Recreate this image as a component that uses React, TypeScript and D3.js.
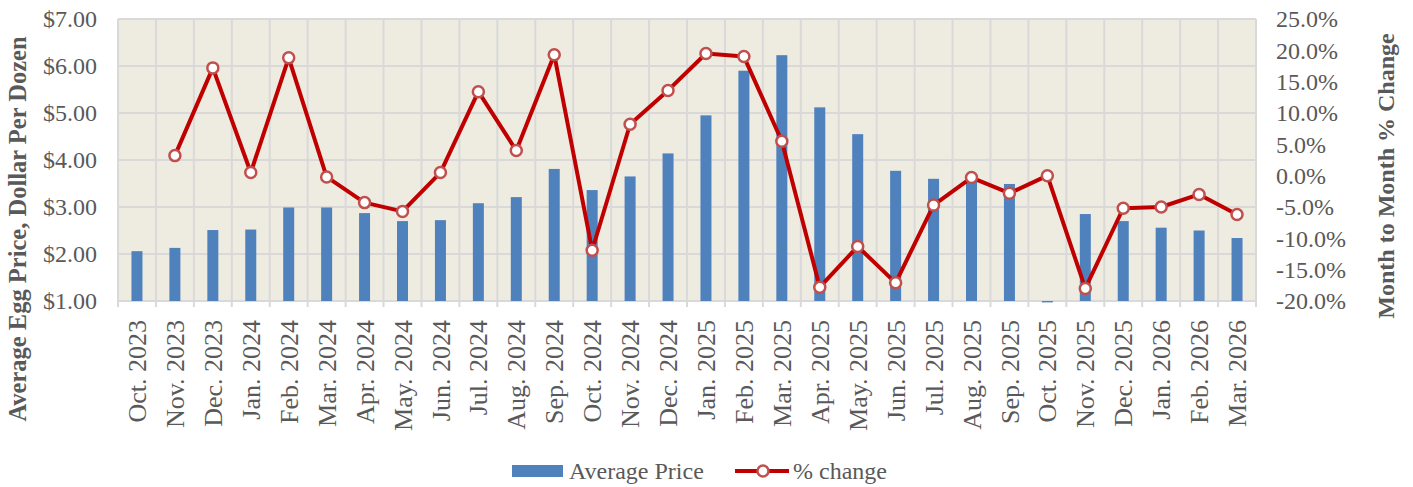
import React, { useEffect, useRef } from 'react';
import * as d3 from 'd3';

const months = [
  'Oct. 2023', 'Nov. 2023', 'Dec. 2023', 'Jan. 2024', 'Feb. 2024', 'Mar. 2024',
  'Apr. 2024', 'May. 2024', 'Jun. 2024', 'Jul. 2024', 'Aug. 2024', 'Sep. 2024',
  'Oct. 2024', 'Nov. 2024', 'Dec. 2024', 'Jan. 2025', 'Feb. 2025', 'Mar. 2025',
  'Apr. 2025', 'May. 2025', 'Jun. 2025', 'Jul. 2025', 'Aug. 2025', 'Sep. 2025',
  'Oct. 2025', 'Nov. 2025', 'Dec. 2025', 'Jan. 2026', 'Feb. 2026', 'Mar. 2026',
];

const avgPrice = [
  2.06, 2.13, 2.51, 2.52, 2.99, 2.99, 2.87, 2.70, 2.72, 3.08, 3.21, 3.81,
  3.36, 3.65, 4.14, 4.95, 5.90, 6.23, 5.12, 4.55, 3.77, 3.60, 3.57, 3.49,
  0.97, 2.85, 2.70, 2.56, 2.50, 2.34,
];

const pctChange: (number | null)[] = [
  null, 3.2, 17.2, 0.5, 18.8, -0.2, -4.3, -5.7, 0.5, 13.4, 4.0, 19.3,
  -11.9, 8.2, 13.6, 19.5, 19.0, 5.5, -17.8, -11.3, -17.1, -4.7, -0.3, -2.8,
  0.0, -18.0, -5.2, -5.0, -3.0, -6.2,
];

const priceTicks = [1, 2, 3, 4, 5, 6, 7];
const pctTicks = [-20, -15, -10, -5, 0, 5, 10, 15, 20, 25];

const App: React.FC = () => {
  const chartRef = useRef<SVGSVGElement>(null);

  useEffect(() => {
    document.body.style.margin = '0';
    const svg = d3.select(chartRef.current!);
    drawChart();
    return () => {
      svg.selectAll('*').remove();
    };
  }, []);

  const drawChart = () => {
    const svg = d3.select(chartRef.current!);
    const font = "'Liberation Serif', 'Times New Roman', serif";
    const textColor = '#595959';
    const grid = '#d9d9d9';

    const plot = { left: 118, right: 1256, top: 19, bottom: 301 };

    const x = d3.scaleBand().domain(months).range([plot.left, plot.right]).padding(0);
    const yL = d3.scaleLinear().domain([1, 7]).range([plot.bottom, plot.top]);
    const yR = d3.scaleLinear().domain([-20, 25]).range([plot.bottom, plot.top]);

    // plot background
    svg
      .append('rect')
      .attr('x', plot.left)
      .attr('y', plot.top)
      .attr('width', plot.right - plot.left)
      .attr('height', plot.bottom - plot.top)
      .attr('fill', '#eeece1');

    // horizontal grid
    svg
      .append('g')
      .selectAll('line')
      .data(priceTicks)
      .enter()
      .append('line')
      .attr('x1', plot.left)
      .attr('x2', plot.right)
      .attr('y1', (d) => yL(d))
      .attr('y2', (d) => yL(d))
      .attr('stroke', grid)
      .attr('stroke-width', 2);

    // vertical grid + ticks below axis
    const bounds = months.map((m) => x(m)!).concat([plot.right]);
    svg
      .append('g')
      .selectAll('line')
      .data(bounds)
      .enter()
      .append('line')
      .attr('x1', (d) => d)
      .attr('x2', (d) => d)
      .attr('y1', plot.top)
      .attr('y2', plot.bottom + 6)
      .attr('stroke', grid)
      .attr('stroke-width', 2);

    // bars
    const bw = 11;
    svg
      .append('g')
      .selectAll('rect')
      .data(avgPrice)
      .enter()
      .append('rect')
      .attr('x', (d, i) => x(months[i])! + x.bandwidth() / 2 - bw / 2)
      .attr('y', (d) => (d >= 1 ? yL(d) : yL(1)))
      .attr('width', bw)
      .attr('height', (d) => Math.max(1, Math.abs(yL(1) - yL(d))))
      .attr('fill', '#4f81bd');

    // line
    const pts = pctChange
      .map((v, i) => ({ m: months[i], v }))
      .filter((d) => d.v !== null) as { m: string; v: number }[];
    const line = d3
      .line<{ m: string; v: number }>()
      .x((d) => x(d.m)! + x.bandwidth() / 2)
      .y((d) => yR(d.v));
    svg
      .append('path')
      .datum(pts)
      .attr('d', line)
      .attr('fill', 'none')
      .attr('stroke', '#c00000')
      .attr('stroke-width', 4)
      .attr('stroke-linejoin', 'round');
    svg
      .append('g')
      .selectAll('circle')
      .data(pts)
      .enter()
      .append('circle')
      .attr('cx', (d) => x(d.m)! + x.bandwidth() / 2)
      .attr('cy', (d) => yR(d.v))
      .attr('r', 5.5)
      .attr('fill', '#ffffff')
      .attr('stroke', '#c0504d')
      .attr('stroke-width', 2.5);

    // left axis labels
    svg
      .append('g')
      .selectAll('text')
      .data(priceTicks)
      .enter()
      .append('text')
      .attr('x', 97)
      .attr('y', (d) => yL(d))
      .attr('dy', '0.35em')
      .attr('text-anchor', 'end')
      .attr('font-family', font)
      .attr('font-size', 24)
      .attr('fill', textColor)
      .text((d) => d3.format('$.2f')(d));

    // right axis labels
    svg
      .append('g')
      .selectAll('text')
      .data(pctTicks)
      .enter()
      .append('text')
      .attr('x', 1276)
      .attr('y', (d) => yR(d))
      .attr('dy', '0.35em')
      .attr('text-anchor', 'start')
      .attr('font-family', font)
      .attr('font-size', 24)
      .attr('fill', textColor)
      .text((d) => d.toFixed(1) + '%');

    // x labels
    svg
      .append('g')
      .selectAll('text')
      .data(months)
      .enter()
      .append('text')
      .attr('transform', (d) => `translate(${x(d)! + x.bandwidth() / 2},320) rotate(-90)`)
      .attr('dy', '0.35em')
      .attr('text-anchor', 'end')
      .attr('font-family', font)
      .attr('font-size', 26)
      .attr('fill', textColor)
      .text((d) => d);

    // axis titles
    svg
      .append('text')
      .attr('transform', 'translate(26,229) rotate(-90)')
      .attr('text-anchor', 'middle')
      .attr('font-family', font)
      .attr('font-size', 24.5)
      .attr('font-weight', 'bold')
      .attr('fill', textColor)
      .text('Average Egg Price, Dollar Per Dozen');
    svg
      .append('text')
      .attr('transform', 'translate(1394,176) rotate(-90)')
      .attr('text-anchor', 'middle')
      .attr('font-family', font)
      .attr('font-size', 24)
      .attr('font-weight', 'bold')
      .attr('fill', textColor)
      .text('Month to Month % Change');

    // legend
    const lg = svg.append('g');
    lg.append('rect')
      .attr('x', 512)
      .attr('y', 465)
      .attr('width', 51)
      .attr('height', 12)
      .attr('fill', '#4f81bd');
    lg.append('text')
      .attr('x', 569)
      .attr('y', 479)
      .attr('font-family', font)
      .attr('font-size', 24)
      .attr('fill', textColor)
      .text('Average Price');
    lg.append('line')
      .attr('x1', 735)
      .attr('x2', 789)
      .attr('y1', 471)
      .attr('y2', 471)
      .attr('stroke', '#c00000')
      .attr('stroke-width', 4);
    lg.append('circle')
      .attr('cx', 763)
      .attr('cy', 471)
      .attr('r', 5.5)
      .attr('fill', '#ffffff')
      .attr('stroke', '#c0504d')
      .attr('stroke-width', 2.5);
    lg.append('text')
      .attr('x', 793)
      .attr('y', 479)
      .attr('font-family', font)
      .attr('font-size', 24)
      .attr('fill', textColor)
      .text('% change');
  };

  return (
    <div>
      <svg ref={chartRef} width={1413} height={487} style={{ display: 'block' }} />
    </div>
  );
};

export default App;
